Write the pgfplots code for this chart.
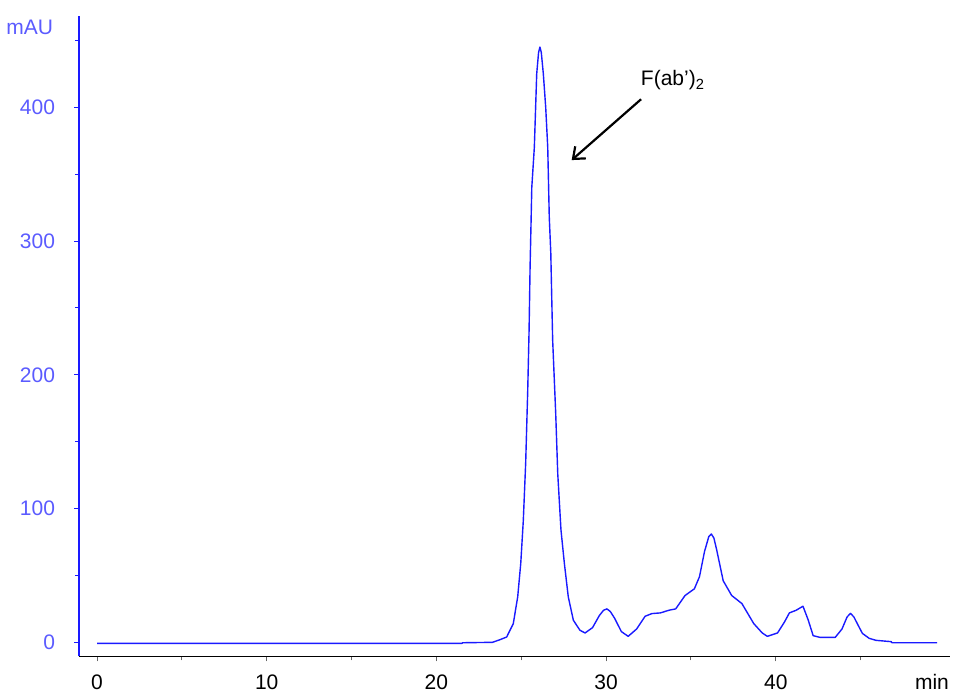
\documentclass[border=0pt]{standalone}
\usepackage{fontspec}
\setmainfont{Liberation Sans}
\usepackage{pgfplots}
\pgfplotsset{compat=1.18}
\usetikzlibrary{arrows.meta}
\definecolor{traceblue}{HTML}{1A1AFF}
\definecolor{labelblue}{HTML}{5B5BFF}

\pgfplotstableread{
t mau
0 -0.8
21.50 -0.8
21.55 -0.3
23.30 0
23.75 2
24.14 4
24.53 14
24.79 34
24.97 59
25.12 91
25.26 134
25.38 188
25.46 233
25.52 281
25.57 310
25.62 340
25.77 370
25.91 425
26.02 441
26.10 445
26.18 441
26.30 425
26.44 400
26.56 370
26.65 318
26.74 291
26.79 261
26.85 226
27.03 171
27.15 126
27.34 84
27.54 59
27.77 34
28.07 16.5
28.46 9
28.76 7
29.20 11
29.60 20
29.85 24
30.05 25
30.25 23
30.50 18
30.90 8
31.30 4.5
31.80 10
32.30 19.5
32.70 21.5
33.20 22
33.70 24
34.10 25
34.65 35
35.20 40
35.50 49
35.80 68
36.05 79
36.20 81
36.35 78
36.50 70
36.90 46
37.40 35
38.00 29
38.70 14
39.20 7
39.50 4.5
40.10 7
40.50 15
40.80 22
41.20 24
41.60 27
41.90 17
42.20 5
42.60 3.7
43.50 3.7
43.90 10
44.20 19
44.40 21.6
44.60 19
44.80 14
45.10 6.7
45.50 3
45.90 1.5
46.80 0.5
46.85 -0.3
49.50 -0.3
}\trace

\begin{document}
\begin{tikzpicture}
\begin{axis}[
    scale only axis,
    width=435.5pt, height=320pt,
    xmin=-1.06, xmax=50.27,
    ymin=-10.5, ymax=468,
    axis x line*=bottom,
    axis y line*=left,
    x axis line style={black, line width=0.8pt, -},
    y axis line style={traceblue, line width=0.7pt, -},
    xtick={0,10,20,30,40},
    minor xtick={5,15,25,35,45},
    ytick={0,100,200,300,400},
    minor ytick={50,150,250,350,450},
    tick align=outside,
    major tick length=2.5pt,
    minor tick length=2pt,
    x tick style={black!60, line width=0.5pt},
    y tick style={traceblue, line width=0.5pt},
    minor y tick style={traceblue, line width=0.5pt},
    tick label style={font=\fontsize{10.5}{12}\selectfont},
    x tick label style={text height=0.75em, black, yshift=-3.2pt},
    y tick label style={labelblue, xshift=-6pt},
    extra x ticks={49.2},
    extra x tick labels={min},
    extra x tick style={tick style={draw=none}},
    /pgf/number format/assume math mode=true,
    clip=false,
]
\addplot[traceblue, line width=0.7pt, mark=none, line join=round] table[x=t, y=mau] {\trace};

\draw[black, line width=1.1pt, -{Straight Barb[length=5pt, width=8pt, line width=1.1pt]}]
    (axis cs:32.06,406) -- (axis cs:27.97,360.5);
\node[black, font=\fontsize{10.5}{12}\selectfont, anchor=center] at (axis cs:33.94,420) {F(ab’)\textsubscript{2}};
\node[labelblue, font=\fontsize{10.5}{12}\selectfont, anchor=east] at (rel axis cs:0,0.983) [xshift=-9.5pt] {mAU};

\coordinate (bl) at (axis cs:-5.716,-38.1);
\coordinate (tr) at (axis cs:50.5,480.2);
\end{axis}
\pgfresetboundingbox
\path[use as bounding box] (bl) rectangle (tr);
\end{tikzpicture}
\end{document}
